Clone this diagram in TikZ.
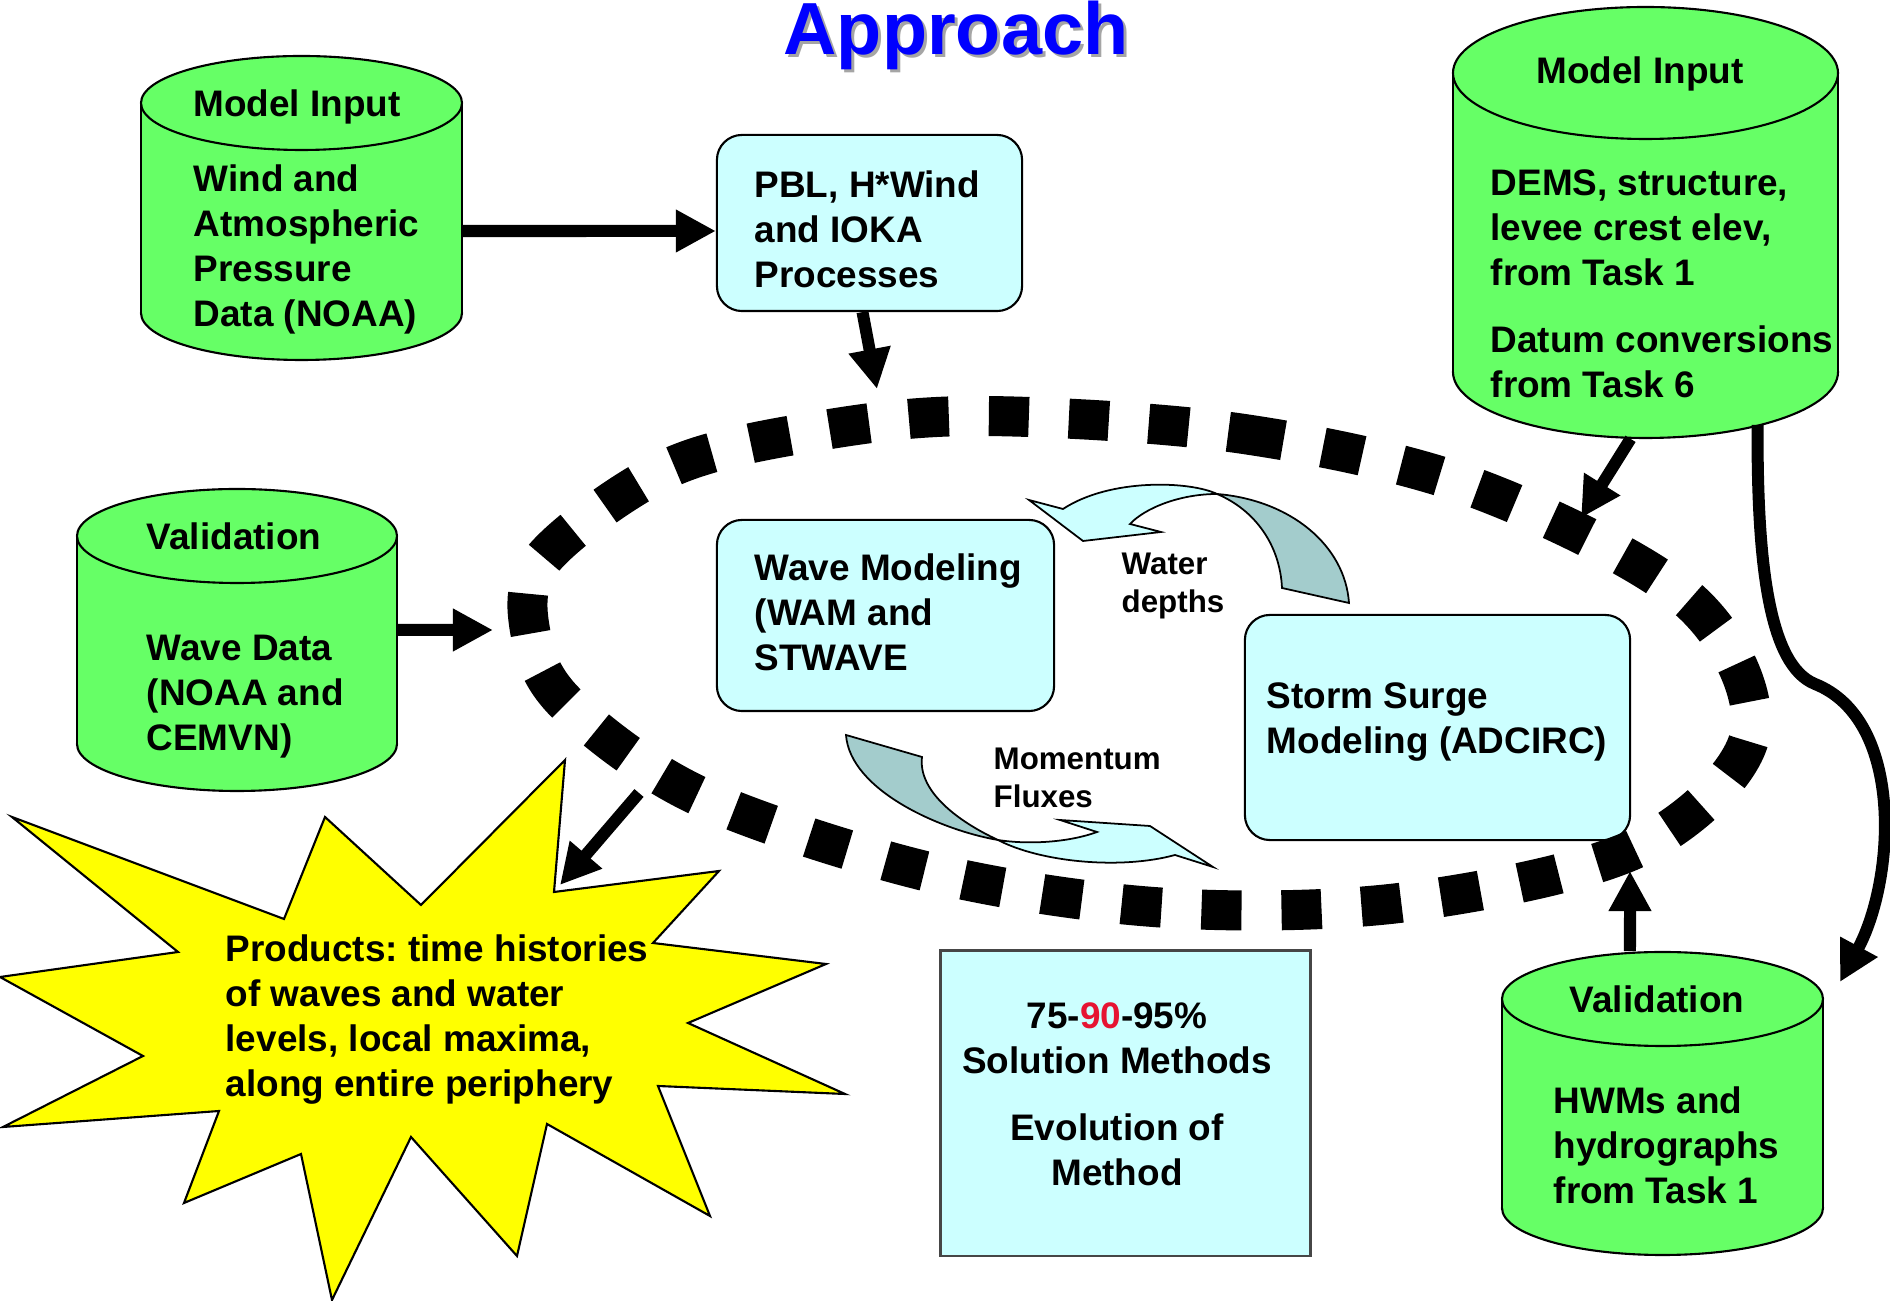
\documentclass[tikz,border=0pt]{standalone}
\usepackage{fontspec}
\setmainfont{Liberation Sans}
\usepackage{xcolor}
\usepackage{tikz}
\usetikzlibrary{calc}
\usetikzlibrary{arrows.meta}

\definecolor{cylgreen}{RGB}{102,255,102}
\definecolor{boxcyan}{RGB}{204,255,255}
\definecolor{twistgray}{RGB}{163,204,204}
\definecolor{staryellow}{RGB}{255,255,0}
\definecolor{pctred}{RGB}{230,20,50}
\definecolor{titleblue}{RGB}{0,0,255}
\definecolor{shadowgray}{RGB}{165,165,165}

\tikzset{
  cylline/.style={draw=black,line width=0.6pt,fill=cylgreen},
  procbox/.style={draw=black,line width=0.6pt,fill=boxcyan,rounded corners=2.5mm,inner sep=0pt},
  bodytext/.style={font=\fontsize{10.5}{12.8}\selectfont\bfseries,align=left,inner sep=0pt,anchor=base west},
  headtext/.style={font=\fontsize{10.5}{12.8}\selectfont\bfseries,inner sep=0pt,anchor=base},
  smalltext/.style={font=\fontsize{8.9}{10.9}\selectfont\bfseries,align=left,inner sep=0pt,anchor=base west},
  bigarrow/.style={line width=1.2mm,-{Triangle[length=4mm,width=4mm]}},
  ringline/.style={line width=4mm,dash pattern=on 4mm off 4mm},
}

% name, centre x, top y, width, height, y radius (in pixels)
\newcommand{\datacyl}[6]{%
  \pgfmathsetmacro\cylrx{#4/2}
  \pgfmathsetmacro\cylL{#2-#4/2}
  \pgfmathsetmacro\cylR{#2+#4/2}
  \pgfmathsetmacro\cylT{#3+#6}
  \pgfmathsetmacro\cylB{#3+#5-#6}
  \filldraw[cylline] (#2,\cylB) ellipse [x radius=\cylrx, y radius=#6];
  \fill[cylgreen] (\cylL,\cylT) rectangle (\cylR,\cylB);
  \draw[line width=0.6pt] (\cylL,\cylT) -- (\cylL,\cylB) (\cylR,\cylT) -- (\cylR,\cylB);
  \filldraw[cylline] (#2,\cylT) ellipse [x radius=\cylrx, y radius=#6];
  \node[inner sep=0pt,minimum width={0.1mm*#4},minimum height={0.1mm*#5}] (#1) at (#2,{#3+#5/2}) {};
}

\begin{document}
\frenchspacing
\begin{tikzpicture}[x=0.01cm,y=-0.01cm]
	\useasboundingbox (0,0) rectangle (1890,1301);

	\datacyl{inA}{301.5}{56}{321}{304}{47}
	\datacyl{valL}{237}{489}{320}{302}{47}
	\datacyl{inB}{1645.5}{7}{385}{431}{66}
	\datacyl{valR}{1662.5}{952}{321}{303}{47}

	\node[procbox,minimum width=30.5mm,minimum height=17.6mm] (pbl) at (869.5,223) {};
	\node[procbox,minimum width=33.7mm,minimum height=19.1mm] (wave) at (885.5,615.5) {};
	\node[procbox,minimum width=38.5mm,minimum height=22.5mm] (surge) at (1437.5,727.5) {};
	\node[draw={rgb,255:red,70;green,70;blue,70},line width=0.8pt,fill=boxcyan,inner sep=0pt,minimum width=36.9mm,minimum height=30.5mm] (methods) at (1125.5,1103.5) {};

	\filldraw[fill=staryellow,draw=black,line width=0.6pt] (565,760) -- (554,892) -- (719,871) -- (653,943) -- (826,964) -- (688,1023) -- (845,1094) -- (658,1086) -- (710,1216) -- (547,1124) -- (517,1256) -- (411,1137) -- (332,1300) -- (301,1154) -- (184,1203) -- (219,1111) -- (3,1127) -- (143,1056) -- (0,977) -- (178,952) -- (12,817) -- (284,919) -- (325,817) -- (421,905) -- cycle;

	\filldraw[fill=twistgray,draw=black,line width=0.5pt] (1217,494) .. controls (1290,500) and (1345,545) .. (1349,603) -- (1282,588) .. controls (1280,545) and (1255,510) .. (1217,494) -- cycle;
	\filldraw[fill=boxcyan,draw=black,line width=0.5pt] (1217,494) .. controls (1190,481) and (1110,478) .. (1063,509) -- (1029,500) -- (1083,541) -- (1161,532) -- (1130,524) .. controls (1145,508) and (1180,494) .. (1217,494) -- cycle;
	\filldraw[fill=twistgray,draw=black,line width=0.5pt] (846,735) -- (922,757) .. controls (918,790) and (955,820) .. (998,840) .. controls (940,830) and (850,790) .. (846,735) -- cycle;
	\filldraw[fill=boxcyan,draw=black,line width=0.5pt] (998,840) .. controls (1030,845) and (1070,842) .. (1097,832) -- (1060,820) -- (1150,826) -- (1213,867) -- (1175,855) .. controls (1120,870) and (1040,862) .. (998,840) -- cycle;

	\draw[ringline] plot[smooth cycle,tension=0.55] coordinates {(986,416) (1244,434) (1478,489) (1690,601) (1750,735) (1639,847) (1407,902) (1168,908) (933,873) (701,797) (569,706) (531,636) (543,559) (669,468) (824,430)};

	\coordinate (ringN) at (877,389);
	\coordinate (ringW) at (493,630);
	\coordinate (ringSW) at (639,793);
	\coordinate (starN) at (560,885);
	\coordinate (ringNE) at (1581,518);
	\coordinate (ringSE) at (1630,871);
	\coordinate (valRtip) at (1840,982);

	\draw[bigarrow] ([yshift=-2.3mm]inA.east) -- ([yshift=-0.8mm]pbl.west);
	\draw[bigarrow] ([xshift=-0.7mm]pbl.south) -- (ringN);
	\draw[bigarrow] ([yshift=1mm]valL.east) -- (ringW);
	\draw[bigarrow] (ringSW) -- (starN);
	\draw[bigarrow] ([xshift=-1.5mm]inB.south) -- (ringNE);
	\draw[bigarrow] ([xshift=-3.25mm]valR.north) -- (ringSE);
	\draw[bigarrow] ([xshift=11.2mm,yshift=1.4mm]inB.south) .. controls (1757,560) and (1768,665) .. (1815,684) .. controls (1905,720) and (1895,880) .. (valRtip);

	\node[font=\fontsize{21}{25}\selectfont\bfseries,text=shadowgray,inner sep=0pt,anchor=base] (titleshadow) at (959,58) {Approach};
	\node[font=\fontsize{21}{25}\selectfont\bfseries,text=titleblue,inner sep=0pt,anchor=base] (title) at (956,55) {Approach};

	% multi-line nodes sit on the baseline of their last line
	\node[headtext] (inAhead) at (297,117) {Model Input};
	\node[bodytext] (inAtext) at (193,327) {Wind and\\Atmospheric\\Pressure\\Data (NOAA)};
	\node[bodytext] (pbltext) at (754,288) {PBL, H*Wind\\and IOKA\\Processes};
	\node[headtext] (valLhead) at (234,550) {Validation};
	\node[bodytext] (valLtext) at (146,751) {Wave Data\\(NOAA and\\CEMVN)};
	\node[bodytext] (wavetext) at (754,671) {Wave Modeling\\(WAM and\\STWAVE};
	\node[bodytext] (surgetext) at (1266,754) {Storm Surge\\Modeling (ADCIRC)};
	\node[headtext] (inBhead) at (1640,84) {Model Input};
	\node[bodytext] (inBtext) at (1490,398) {DEMS, structure,\\levee crest elev,\\from Task 1\\[2.2mm]Datum conversions\\from Task 6};
	\node[headtext] (valRhead) at (1657,1013) {Validation};
	\node[bodytext] (valRtext) at (1553,1204) {HWMs and\\hydrographs\\from Task 1};
	\node[smalltext] (waterlabel) at (1121,613) {Water\\depths};
	\node[smalltext] (momentumlabel) at (993,808) {Momentum\\Fluxes};
	\node[bodytext] (startext) at (225,1097) {Products: time histories\\of waves and water\\levels, local maxima,\\along entire periphery};
	\node[headtext,align=center] (methodtext) at (1117,1186) {75-\textcolor{pctred}{90}-95\%\\Solution Methods\\[2.2mm]Evolution of\\Method};
\end{tikzpicture}
\end{document}
